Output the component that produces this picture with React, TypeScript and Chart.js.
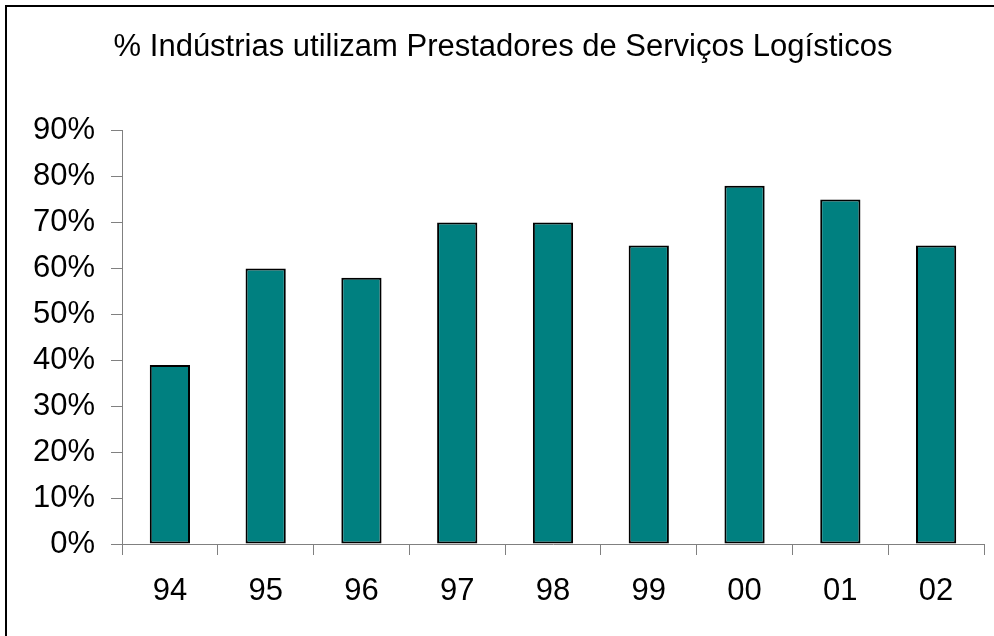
import React, { useEffect, useRef } from "react";
import { Chart, registerables } from "chart.js";

Chart.register(...registerables);

const TITLE = "% Indústrias utilizam Prestadores de Serviços Logísticos";
const CATEGORIES = ["94", "95", "96", "97", "98", "99", "00", "01", "02"];
const VALUES = [39, 60, 58, 70, 70, 65, 78, 75, 65];
const Y_MIN = 0;
const Y_MAX = 90;
const Y_STEP = 10;

const FONT = "'Liberation Sans', Arial, sans-serif";

export default function App() {
  const ref = useRef<HTMLCanvasElement | null>(null);

  useEffect(() => {
    if (!ref.current) return;
    const chart = new Chart(ref.current, {
      type: "bar",
      data: {
        labels: CATEGORIES,
        datasets: [
          {
            data: VALUES,
            backgroundColor: "#008080",
            borderColor: "#000000",
            borderWidth: 2,
            borderSkipped: false,
            barPercentage: 0.42,
            categoryPercentage: 1,
          },
        ],
      },
      options: {
        responsive: false,
        animation: false,
        devicePixelRatio: 1,
        layout: { padding: { left: 22, right: 10, top: 0, bottom: 0 } },
        plugins: {
          legend: { display: false },
          tooltip: { enabled: false },
          title: {
            display: true,
            text: TITLE,
            color: "#000000",
            font: { family: FONT, size: 31, weight: "normal" },
            padding: { top: 29, bottom: 64.5 },
          },
        },
        scales: {
          x: {
            offset: true,
            grid: {
              display: true,
              drawOnChartArea: false,
              drawTicks: true,
              tickLength: 11,
              color: "#808080",
              lineWidth: 1,
            },
            border: { display: true, color: "#808080", width: 1 },
            ticks: {
              color: "#000000",
              font: { family: FONT, size: 31 },
              padding: 18,
            },
            afterFit: (scale: any) => {
              scale.height = 92;
            },
          },
          y: {
            min: Y_MIN,
            max: Y_MAX,
            grid: {
              display: true,
              drawOnChartArea: false,
              drawTicks: true,
              tickLength: 11,
              color: "#808080",
              lineWidth: 1,
            },
            border: { display: true, color: "#808080", width: 1 },
            ticks: {
              stepSize: Y_STEP,
              color: "#000000",
              font: { family: FONT, size: 31 },
              padding: 16,
              callback: (v: any) => `${v}%`,
            },
            afterFit: (scale: any) => {
              scale.width = 100;
            },
          },
        },
      },
    });
    return () => chart.destroy();
  }, []);

  return (
    <div
      style={{
        position: "fixed",
        left: 0,
        top: 0,
        width: 994,
        height: 636,
        background: "#ffffff",
        overflow: "hidden",
      }}
    >
      <canvas
        ref={ref}
        width={994}
        height={636}
        style={{ position: "absolute", left: 0, top: 0, width: 994, height: 636 }}
      />
      <div
        style={{
          position: "absolute",
          left: 5,
          top: 5,
          width: 1100,
          height: 800,
          borderLeft: "2px solid #000000",
          borderTop: "2px solid #000000",
          pointerEvents: "none",
        }}
      />
    </div>
  );
}
